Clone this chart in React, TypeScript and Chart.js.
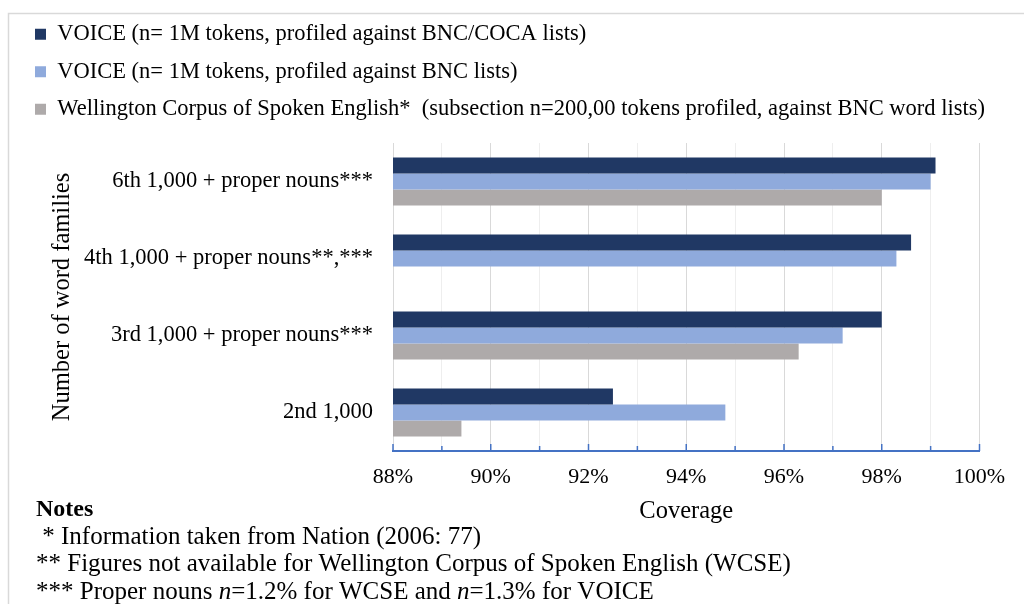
import React, { useEffect, useRef } from 'react';
import { Chart, registerables } from 'chart.js';

Chart.register(...registerables);

const FONT = "'Liberation Serif', 'Times New Roman', serif";

const categories = [
  '6th 1,000 + proper nouns***',
  '4th 1,000 + proper nouns**,***',
  '3rd 1,000 + proper nouns***',
  '2nd 1,000',
];
const seriesNames = [
  'VOICE (n= 1M tokens, profiled against BNC/COCA lists)',
  'VOICE (n= 1M tokens, profiled against BNC lists)',
  'Wellington Corpus of Spoken English*  (subsection n=200,00 tokens profiled, against BNC word lists)',
];
const voiceBncCoca = [99.1, 98.6, 98.0, 92.5];
const voiceBnc = [99.0, 98.3, 97.2, 94.8];
const wellington = [98.0, null, 96.3, 89.4];
const seriesColors = ['#203864', '#8FAADC', '#AEAAAA'];

const xMin = 88;
const xMax = 100;
const xTitle = 'Coverage';
const yTitle = 'Number of word families';

const notesTitle = 'Notes';
const noteLine1 = ' * Information taken from Nation (2006: 77)';
const noteLine2 = '** Figures not available for Wellington Corpus of Spoken English (WCSE)';
const noteLine3: [string, boolean][] = [
  ['*** Proper nouns ', false],
  ['n', true],
  ['=1.2% for WCSE and ', false],
  ['n', true],
  ['=1.3% for VOICE', false],
];

const PAD_LEFT = 20;
const PLOT_LEFT = 393;

const framePlugin = {
  id: 'frame',
  beforeDraw(chart: any) {
    const ctx = chart.ctx;
    ctx.save();
    ctx.fillStyle = '#ffffff';
    ctx.fillRect(0, 0, chart.width, chart.height);
    ctx.strokeStyle = '#d9d9d9';
    ctx.lineWidth = 1.5;
    ctx.beginPath();
    ctx.moveTo(8.5, chart.height);
    ctx.lineTo(8.5, 13.5);
    ctx.lineTo(chart.width, 13.5);
    ctx.stroke();
    ctx.restore();
  },
};

const tickMarkPlugin = {
  id: 'tickMarks',
  afterDraw(chart: any) {
    const ctx = chart.ctx;
    const xs = chart.scales.x;
    const bottom = chart.chartArea.bottom;
    ctx.save();
    ctx.strokeStyle = '#4472C4';
    ctx.lineWidth = 1.5;
    for (let v = xMin; v <= xMax; v++) {
      const px = xs.getPixelForValue(v);
      const len = v % 2 === 0 ? 7 : 5;
      ctx.beginPath();
      ctx.moveTo(px, bottom);
      ctx.lineTo(px, bottom - len);
      ctx.stroke();
    }
    ctx.restore();
  },
};

const notesPlugin = {
  id: 'notes',
  afterDraw(chart: any) {
    const ctx = chart.ctx;
    ctx.save();
    ctx.fillStyle = '#000';
    ctx.textBaseline = 'alphabetic';
    ctx.textAlign = 'left';
    ctx.font = `bold 24px ${FONT}`;
    ctx.fillText(notesTitle, 36, 516);
    ctx.font = `25px ${FONT}`;
    ctx.fillText(noteLine1, 36, 543.5);
    ctx.fillText(noteLine2, 36, 571);
    let x = 36;
    for (const [seg, ital] of noteLine3) {
      ctx.font = `${ital ? 'italic ' : ''}25px ${FONT}`;
      ctx.fillText(seg, x, 598.5);
      x += ctx.measureText(seg).width;
    }
    ctx.restore();
  },
};

export default function App() {
  const ref = useRef<HTMLCanvasElement>(null);

  useEffect(() => {
    if (!ref.current) return;
    const data = [voiceBncCoca, voiceBnc, wellington];
    const chart = new Chart(ref.current, {
      type: 'bar',
      data: {
        labels: categories,
        datasets: seriesNames.map((name, i) => ({
          label: name,
          data: data[i] as any,
          xAxisID: 'x',
          yAxisID: 'y',
          backgroundColor: seriesColors[i],
          borderWidth: 0,
          categoryPercentage: 0.623,
          barPercentage: 1,
        })),
      },
      options: {
        indexAxis: 'y',
        responsive: false,
        animation: false,
        devicePixelRatio: 1,
        layout: { padding: { left: PAD_LEFT, right: 0, top: 8, bottom: 77.3 } },
        plugins: {
          tooltip: { enabled: false },
          legend: {
            position: 'top',
            align: 'start',
            labels: {
              color: '#000',
              font: { family: FONT, size: 22.5 },
              boxWidth: 11,
              boxHeight: 11,
              padding: 15,
            },
          },
        },
        scales: {
          x: {
            type: 'linear',
            min: xMin,
            max: xMax,
            grid: {
              color: (c: any) => (c.tick && c.tick.value % 2 === 0 ? '#d9d9d9' : '#eeeeee'),
              lineWidth: 1,
              drawTicks: false,
            },
            border: { color: '#4472C4', width: 2 },
            ticks: {
              stepSize: 1,
              autoSkip: false,
              maxRotation: 0,
              padding: 13,
              color: '#000',
              font: { family: FONT, size: 22 },
              callback: (v: any) => (Number(v) % 2 === 0 ? v + '%' : ''),
            },
            title: {
              display: true,
              text: xTitle,
              color: '#000',
              font: { family: FONT, size: 24.5 },
              padding: { top: 0, bottom: 0 },
            },
            afterFit: (s: any) => {
              s.height = 75.7;
            },
          },
          y: {
            type: 'category',
            grid: { display: false, drawTicks: false },
            border: { display: false },
            ticks: {
              color: '#000',
              autoSkip: false,
              padding: 20,
              font: { family: FONT, size: 22.5 },
            },
            title: {
              display: true,
              text: yTitle,
              color: '#000',
              font: { family: FONT, size: 24.5 },
              padding: { top: 27.8, bottom: 0 },
            },
            afterFit: (s: any) => {
              s.width = PLOT_LEFT - PAD_LEFT;
            },
          },
          spacerTop: {
            type: 'linear',
            axis: 'x',
            position: 'top',
            display: true,
            grid: { display: false, drawTicks: false },
            border: { display: false },
            ticks: { display: false },
            afterFit: (s: any) => {
              s.height = 12.5;
            },
          },
          spacerRight: {
            type: 'linear',
            axis: 'y',
            position: 'right',
            display: true,
            grid: { display: false, drawTicks: false },
            border: { display: false },
            ticks: { display: false },
            afterFit: (s: any) => {
              s.width = 44.5;
            },
          },
        } as any,
      },
      plugins: [framePlugin, tickMarkPlugin, notesPlugin],
    });
    return () => chart.destroy();
  }, []);

  return (
    <div style={{ position: 'fixed', left: 0, top: 0, width: 1024, height: 604, background: '#fff' }}>
      <canvas ref={ref} width={1024} height={604} style={{ display: 'block', width: 1024, height: 604 }} />
    </div>
  );
}
